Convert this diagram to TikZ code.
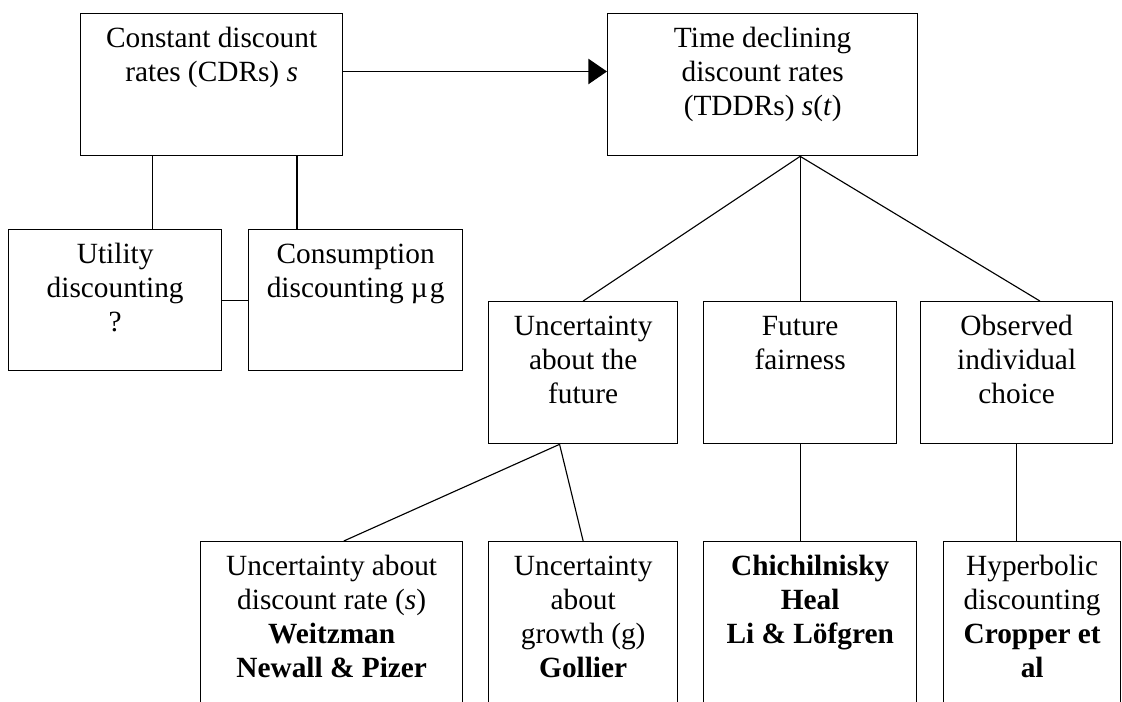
\documentclass[tikz,border=0pt]{standalone}
\usepackage{fontspec}
\setmainfont{Liberation Serif}
\usetikzlibrary{arrows.meta,calc}
\newlength\pxu
\setlength\pxu{0.75pt}
\newcommand\bxt[3]{\parbox[t][#2\pxu][t]{#1\pxu}{\centering\fontsize{22}{25.5}\selectfont\vspace*{7.65pt}\strut #3\par}}
\begin{document}
\begin{tikzpicture}[x=0.75pt,y=-0.75pt,
  box/.style={draw,line width=1pt,inner sep=0pt,anchor=north west},
  conn/.style={line width=1pt},
  diag/.style={line width=0.85pt},
  arr/.style={line width=1pt,-{Triangle[length=14pt,width=19pt]}}]
\useasboundingbox (0,0) rectangle (1122,701);
\fill[white] (0,0) rectangle (1122,701);
\clip (0,0) rectangle (1122,701);

\node[box] (cdr) at (80,13) {\bxt{262}{142}{Constant discount\\ rates (CDRs) \textit{s}}};
\node[box] (tddr) at (607,13) {\bxt{310}{142}{Time declining\\ discount rates\\ (TDDRs) \textit{s}(\textit{t})}};
\node[box] (util) at (8,229) {\bxt{213}{141}{Utility\\ discounting\\ ?}};
\node[box] (cons) at (248,229) {\bxt{214}{141}{Consumption\\ discounting µ\kern1.5pt g}};
\node[box] (uf) at (488,301) {\bxt{189}{142}{Uncertainty\\ about the\\ future}};
\node[box] (ff) at (703,301) {\bxt{193}{142}{Future\\ fairness}};
\node[box] (obs) at (920,301) {\bxt{192}{142}{Observed\\ individual\\ choice}};
\node[box] (ud) at (200,541) {\bxt{262}{200}{Uncertainty about\\ discount rate (\textit{s})\\ \textbf{Weitzman}\\ \textbf{Newall \& Pizer}}};
\node[box] (ug) at (488,541) {\bxt{189}{200}{Uncertainty\\ about\\ growth (g)\\ \textbf{Gollier}}};
\node[box] (chi) at (703,541) {\bxt{213}{200}{\textbf{Chichilnisky}\\ \textbf{Heal}\\ \textbf{Li \& Löfgren}}};
\node[box] (hyp) at (943,541) {\bxt{177}{200}{Hyperbolic\\ discounting\\ \textbf{Cropper et}\\ \textbf{al}}};

\draw[arr] ($(cdr.north east)!0.408!(cdr.south east)$) coordinate (a1) -- (a1 -| tddr.west);
\draw[conn] ($(cdr.south west)!0.275!(cdr.south east)$) coordinate (c1) -- (c1 |- util.north);
\draw[conn] ($(cdr.south west)!0.824!(cdr.south east)$) coordinate (c2) -- (c2 |- cons.north);
\draw[conn] (util.east) -- (cons.west);

\coordinate (t1) at (ff.north |- tddr.south);
\draw[diag] (t1) -- (uf.north);
\draw[conn] (t1) -- (ff.north);
\draw[diag] (t1) -- ($(obs.north west)!0.62!(obs.north east)$) coordinate (o1);

\coordinate (u1) at ($(uf.south west)!0.376!(uf.south east)$);
\draw[diag] (u1) -- ($(ud.north west)!0.546!(ud.north east)$) coordinate (d1);
\draw[diag] (u1) -- (ug.north);
\draw[conn] (ff.south) -- (ff.south |- chi.north);
\draw[conn] (obs.south) -- (obs.south |- hyp.north);
\end{tikzpicture}
\end{document}
